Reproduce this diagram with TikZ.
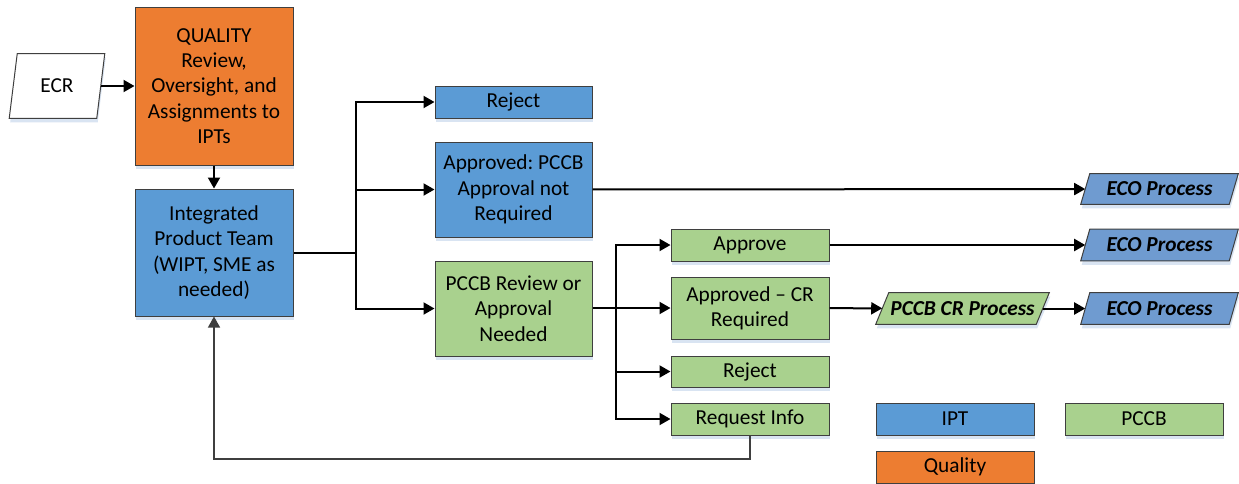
\documentclass[tikz,border=0pt]{standalone}
\usepackage{fontspec}
\setmainfont{Carlito}
\usetikzlibrary{arrows.meta,shadows,backgrounds}
\frenchspacing

\definecolor{iptblue}{HTML}{5B9BD5}
\definecolor{ecoblue}{HTML}{6F9BD0}
\definecolor{pccbgreen}{HTML}{A9D18E}
\definecolor{qualorange}{HTML}{ED7D31}
\definecolor{edgegray}{HTML}{3F3F3F}
\definecolor{shadowblue}{HTML}{D9E4F2}

\tikzset{
  txt/.style={inner sep=0pt, align=center, font=\fontsize{16}{19}\selectfont},
  outline/.style={draw=edgegray, line width=0.75pt,
    general shadow={fill=shadowblue, shadow xshift=0.75pt, shadow yshift=-3pt}},
  box/.style 2 args={txt, outline, rectangle,
    minimum width=#1*0.75pt, minimum height=#2*0.75pt},
  % text area of a slanted box: its width is measured along the mid-line
  slantarea/.style 2 args={txt, rectangle,
    minimum width=#1*0.75pt, minimum height=#2*0.75pt},
  ipt/.style={fill=iptblue},
  pccb/.style={fill=pccbgreen},
  qual/.style={fill=qualorange},
  procfont/.style={font=\fontsize{16}{19}\selectfont\bfseries\itshape},
  link/.style={line width=1.5pt, draw=black},
  trunk/.style={line width=2pt, draw=black},
  flow/.style={link, -{Triangle[length=8.25pt, width=9pt]}},
  back/.style={line width=1pt, draw=edgegray, -{Triangle[length=8.25pt, width=9pt]}}
}

% parallelogram drawn round a named text area; #2 = horizontal slant in px
\newcommand\slantframe[3]{%
  \path[outline, fill=#3]
    ([xshift=#2*0.375pt]#1.north west) -- ([xshift=#2*0.375pt]#1.north east)
    -- ([xshift=-#2*0.375pt]#1.south east) -- ([xshift=-#2*0.375pt]#1.south west)
    -- cycle;}

\begin{document}
\begin{tikzpicture}[x=0.75pt, y=-0.75pt]
\useasboundingbox (0,0) rectangle (1239,483);

% intake
\node[slantarea={87}{64}] (ecr) at (57,86) {ECR};
\node[box={158}{158}, qual] (quality) at (214,86)
  {QUALITY\\Review,\\Oversight, and\\Assignments to\\IPTs};
\node[box={158}{127}, ipt] (team) at (214,252.5)
  {Integrated\\Product Team\\(WIPT, SME as\\needed)};

% IPT outcomes
\node[box={157}{32}, ipt] (rejA) at (513.5,102) {Reject};
\node[box={157}{95}, ipt] (appA) at (513.5,189.5) {Approved: PCCB\\Approval not\\Required};
\node[box={157}{95}, pccb] (review) at (513.5,308.5) {PCCB Review or\\Approval\\Needed};

% PCCB outcomes
\node[box={158}{32}, pccb] (approve) at (750,245) {Approve};
\node[box={158}{62}, pccb] (appcr) at (750,308) {Approved -- CR\\Required};
\node[box={158}{31}, pccb] (rejB) at (750,371.5) {Reject};
\node[box={158}{32}, pccb] (reqinfo) at (750,419) {Request Info};

% downstream processes
\node[slantarea={148}{30}, procfont] (eco1) at (1159.5,189) {ECO Process};
\node[slantarea={148}{31}, procfont] (eco2) at (1159.5,245) {ECO Process};
\node[slantarea={160}{31}, procfont] (crproc) at (962.5,308.5) {PCCB CR Process};
\node[slantarea={148}{31}, procfont] (eco3) at (1159.5,308.5) {ECO Process};

% legend
\node[box={158}{32}, ipt] (legipt) at (955,419) {IPT};
\node[box={158}{32}, pccb] (legpccb) at (1144,419) {PCCB};
\node[box={158}{32}, qual] (legqual) at (955,467) {Quality};

\begin{scope}[on background layer]
  \slantframe{ecr}{8}{white}
  \slantframe{eco1}{9}{ecoblue}
  \slantframe{eco2}{9}{ecoblue}
  \slantframe{crproc}{13}{pccbgreen}
  \slantframe{eco3}{9}{ecoblue}
\end{scope}

% junction points
\coordinate (j1) at (356,253);
\coordinate (j2) at (616,308);
\coordinate (fb) at (214,459);

% connectors
\draw[flow] (ecr) -- (quality);
\draw[flow] (quality) -- (team);

\draw[trunk] (team.east |- j1) -- (j1);
\draw[flow] (j1) |- (rejA);
\draw[flow] (j1) |- (appA);
\draw[flow] (j1) |- (review);

\draw[flow] (appA) -- (eco1);

\draw[trunk] (review.east |- j2) -- (j2);
\draw[flow] (j2) |- (approve);
\draw[flow] (j2) -- (appcr);
\draw[flow] (j2) |- (rejB);
\draw[flow] (j2) |- (reqinfo);

\draw[flow] (approve) -- (eco2);
\draw[flow] (appcr) -- (crproc);
\draw[flow] (crproc) -- (eco3);

\draw[back] (reqinfo.south) |- (fb) -- (team.south);
\end{tikzpicture}
\end{document}
